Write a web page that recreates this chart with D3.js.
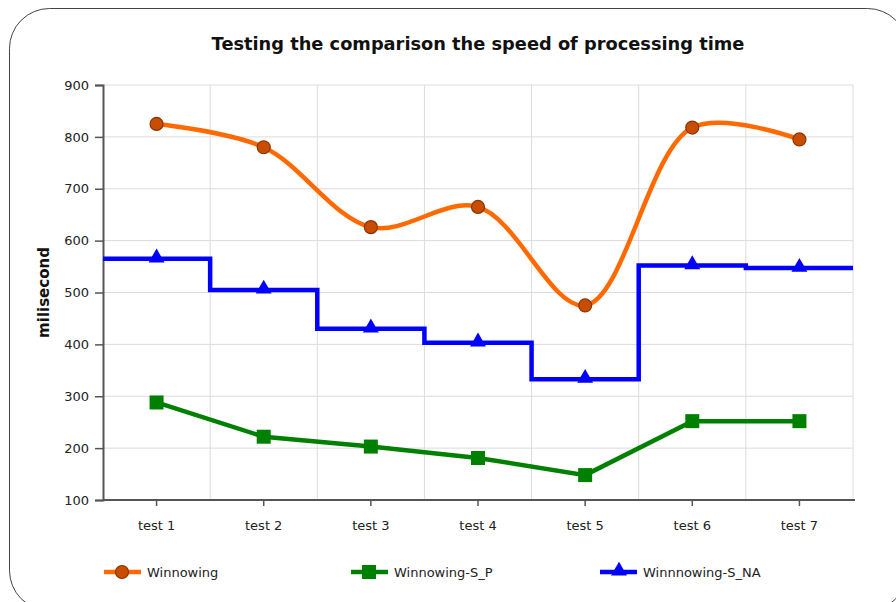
<!DOCTYPE html>
<html>
<head>
<meta charset="utf-8">
<script src="https://cdnjs.cloudflare.com/ajax/libs/d3/7.8.5/d3.min.js"></script>
<style>
  body { margin: 0; background: #fff; }
  svg { display: block; font-family: "DejaVu Sans", Verdana, sans-serif; }
</style>
</head>
<body>
<script>
const tests = ["test 1", "test 2", "test 3", "test 4", "test 5", "test 6", "test 7"];
const winnowing = [825, 780, 626, 665, 475, 818, 795];
const winnowingSP = [288, 222, 203, 181, 148, 252, 252];
const winnowingSNA = [565, 505, 430, 403, 333, 552, 547];
const yTicks = [100, 200, 300, 400, 500, 600, 700, 800, 900];

const w = 896, h = 602;
const m = {top: 85, right: 43, bottom: 102, left: 103};

const svg = d3.select("body").append("svg")
  .attr("width", w)
  .attr("height", h);

// rounded frame
svg.append("rect")
  .attr("x", 9.5).attr("y", 8.5)
  .attr("width", 898).attr("height", 602)
  .attr("rx", 40).attr("ry", 40)
  .attr("fill", "none")
  .attr("stroke", "#444")
  .attr("stroke-width", 1);

svg.append("text")
  .attr("x", 478).attr("y", 50)
  .attr("text-anchor", "middle")
  .attr("font-weight", "bold")
  .attr("font-size", 17.8)
  .attr("fill", "#111")
  .text("Testing the comparison the speed of processing time");

const x = d3.scaleBand().domain(tests).range([m.left, w - m.right]);
const y = d3.scaleLinear().domain([100, 900]).range([h - m.bottom, m.top]);
const cx = d => x(d) + x.bandwidth() / 2;

// grid
const grid = svg.append("g").attr("stroke", "#dcdcdc").attr("stroke-width", 1);
grid.selectAll(".hg").data(yTicks.slice(1)).enter().append("line")
  .attr("x1", m.left).attr("x2", w - m.right)
  .attr("y1", d => y(d)).attr("y2", d => y(d));
grid.selectAll(".vg").data(tests.slice(1)).enter().append("line")
  .attr("x1", d => x(d)).attr("x2", d => x(d))
  .attr("y1", m.top).attr("y2", h - m.bottom);
grid.append("line")
  .attr("x1", w - m.right).attr("x2", w - m.right)
  .attr("y1", m.top).attr("y2", h - m.bottom);

// axes
const yAxis = svg.append("g")
  .attr("transform", "translate(" + m.left + ",0)")
  .call(d3.axisLeft(y).tickValues(yTicks).tickSize(8).tickPadding(6));
const xAxis = svg.append("g")
  .attr("transform", "translate(0," + (h - m.bottom) + ")")
  .call(d3.axisBottom(x).tickSize(6).tickPadding(15));
[xAxis, yAxis].forEach(a => {
  a.select(".domain").attr("stroke", "#555").attr("stroke-width", 2);
  a.selectAll(".tick line").attr("stroke", "#555").attr("stroke-width", 1.5);
  a.selectAll(".tick text").attr("font-size", 13).attr("fill", "#222")
    .style("font-family", "\"DejaVu Sans\", Verdana, sans-serif");
});
xAxis.select(".domain").attr("d", "M" + m.left + ",0H" + (w - m.right + 2));

svg.append("text")
  .attr("transform", "translate(49," + (h - m.bottom + m.top) / 2 + ") rotate(-90)")
  .attr("text-anchor", "middle")
  .attr("font-weight", "bold")
  .attr("font-size", 15)
  .attr("fill", "#111")
  .text("milisecond");

// Winnnowing-S_NA step line
const naPts = [[m.left, winnowingSNA[0]]]
  .concat(tests.map((t, i) => [cx(t), winnowingSNA[i]]))
  .concat([[w - m.right, winnowingSNA[winnowingSNA.length - 1]]]);
svg.append("path")
  .attr("d", d3.line().x(d => d[0]).y(d => y(d[1])).curve(d3.curveStep)(naPts))
  .attr("fill", "none").attr("stroke", "#0000ff").attr("stroke-width", 4.5);
const tri = d3.symbol().type(d3.symbolTriangle).size(110);
svg.selectAll(".na").data(tests).enter().append("path")
  .attr("transform", (t, i) => "translate(" + cx(t) + "," + (y(winnowingSNA[i]) - 1) + ")")
  .attr("d", tri).attr("fill", "#0000ff");

// Winnowing-S_P
svg.append("path")
  .attr("d", d3.line().x((v, i) => cx(tests[i])).y(v => y(v))(winnowingSP))
  .attr("fill", "none").attr("stroke", "#008000").attr("stroke-width", 4.5);
svg.selectAll(".sp").data(tests).enter().append("rect")
  .attr("x", (t) => cx(t) - 7).attr("y", (t, i) => y(winnowingSP[i]) - 7)
  .attr("width", 14).attr("height", 14).attr("fill", "#008000");

// Winnowing
svg.append("path")
  .attr("d", d3.line().x((v, i) => cx(tests[i])).y(v => y(v)).curve(d3.curveCatmullRom.alpha(0.5))(winnowing))
  .attr("fill", "none").attr("stroke", "#ff6a00").attr("stroke-width", 4.5);
svg.selectAll(".wn").data(tests).enter().append("circle")
  .attr("cx", t => cx(t)).attr("cy", (t, i) => y(winnowing[i]))
  .attr("r", 6.5).attr("fill", "#c84d00").attr("stroke", "#8a3300").attr("stroke-width", 1.2);

// legend
const legendItems = [
  {name: "Winnowing", color: "#ff6a00", x: 104, shape: "circle"},
  {name: "Winnowing-S_P", color: "#008000", x: 351, shape: "square"},
  {name: "Winnnowing-S_NA", color: "#0000ff", x: 600, shape: "triangle"}
];
const legend = svg.selectAll(".legend").data(legendItems).enter().append("g")
  .attr("transform", d => "translate(" + d.x + ",572)");
legend.append("line")
  .attr("x1", 0).attr("x2", 37).attr("y1", 0).attr("y2", 0)
  .attr("stroke", d => d.color).attr("stroke-width", 4.5);
legend.each(function(d) {
  const g = d3.select(this);
  if (d.shape === "circle") {
    g.append("circle").attr("cx", 18).attr("cy", 0).attr("r", 6.5)
      .attr("fill", "#c84d00").attr("stroke", "#8a3300").attr("stroke-width", 1.2);
  } else if (d.shape === "square") {
    g.append("rect").attr("x", 11).attr("y", -7).attr("width", 14).attr("height", 14).attr("fill", d.color);
  } else {
    g.append("path").attr("transform", "translate(19,-1)").attr("d", tri).attr("fill", d.color);
  }
});
legend.append("text")
  .attr("x", 43).attr("y", 5)
  .attr("font-size", 13).attr("fill", "#222")
  .text(d => d.name);
</script>
</body>
</html>
